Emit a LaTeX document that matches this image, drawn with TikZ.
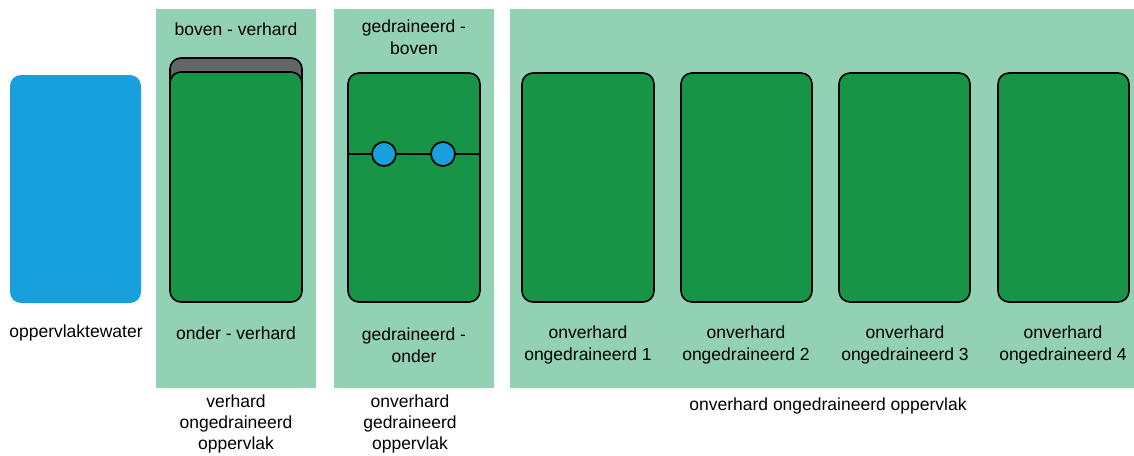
\documentclass[tikz,border=0pt]{standalone}
\usepackage{fontspec}
\setmainfont{Liberation Sans}
\definecolor{panel}{HTML}{93D1B4}
\definecolor{field}{HTML}{179446}
\definecolor{water}{HTML}{18A0DC}
\definecolor{pave}{HTML}{646567}
\tikzset{
  panelbox/.style={fill=panel, draw=none},
  fieldbox/.style={fill=field, draw=black, line width=1.6pt, rounded corners=11pt},
  lbl/.style={font=\fontsize{17.5}{22}\selectfont, align=center, text=black, inner sep=0pt},
  pump/.style={circle, fill=water, draw=black, line width=1.7pt, minimum size=24pt, inner sep=0pt}
}
\begin{document}
\begin{tikzpicture}[x=1pt,y=-1pt]
\useasboundingbox (0,0) rectangle (1134,455);
% background panels
\fill[panelbox] (156,9) rectangle (316,388);
\fill[panelbox] (334,9) rectangle (494,388);
\fill[panelbox] (510,9) rectangle (1134,388);
% surface water
\fill[water, rounded corners=11pt] (10,75) rectangle (141,303);
% paved field with pavement layer on top
\draw[fill=pave, draw=black, line width=1.6pt, rounded corners=11pt] (170,58) rectangle (302,100);
\draw[fieldbox] (170,72) rectangle (302,302);
% drained field with drain line and pumps
\draw[fieldbox] (348,73) rectangle (480,302);
\coordinate (dl) at (348,154);
\coordinate (dr) at (480,154);
\node[pump] (p1) at (384,154) {};
\node[pump] (p2) at (443,154) {};
\draw[line width=1.3pt] (dl) -- (p1) -- (p2) -- (dr);
% undrained fields
\draw[fieldbox] (522,73) rectangle (654,302);
\draw[fieldbox] (681,73) rectangle (812,302);
\draw[fieldbox] (839,73) rectangle (970,302);
\draw[fieldbox] (998,73) rectangle (1129,302);
% labels
\node[lbl] (t0) at (76,333) {oppervlaktewater};
\node[lbl] (t1) at (236,29) {boven - verhard};
\node[lbl] (t2) at (236,333) {onder - verhard};
\node[lbl] (t3) at (414,37) {gedraineerd -\\boven};
\node[lbl] (t4) at (414,345) {gedraineerd -\\onder};
\node[lbl] (t5) at (588,345) {onverhard\\ongedraineerd 1};
\node[lbl] (t6) at (746,345) {onverhard\\ongedraineerd 2};
\node[lbl] (t7) at (905,345) {onverhard\\ongedraineerd 3};
\node[lbl] (t8) at (1063,345) {onverhard\\ongedraineerd 4};
\node[lbl, font=\fontsize{17.5}{21}\selectfont] (b1) at (236,424) {verhard\\ongedraineerd\\oppervlak};
\node[lbl, font=\fontsize{17.5}{21}\selectfont] (b2) at (410,424) {onverhard\\gedraineerd\\oppervlak};
\node[lbl] (b3) at (828,406) {onverhard ongedraineerd oppervlak};
\end{tikzpicture}
\end{document}
